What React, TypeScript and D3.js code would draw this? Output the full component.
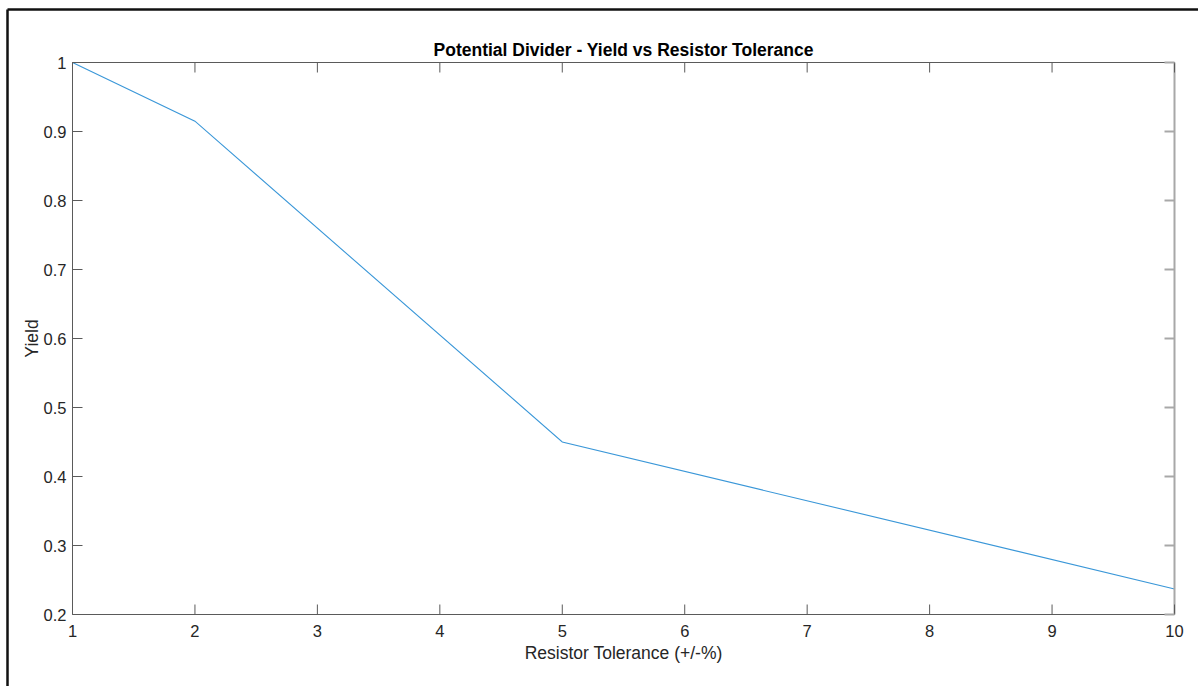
import React from "react";
import * as d3 from "d3";

// Tolerance (±%) against the fraction of dividers within spec
const tolerance = [1, 2, 5, 10];
const yieldValues = [1.0, 0.915, 0.45, 0.237];
const xTicks = [1, 2, 3, 4, 5, 6, 7, 8, 9, 10];
const yTicks = [0.2, 0.3, 0.4, 0.5, 0.6, 0.7, 0.8, 0.9, 1];

const titleText = "Potential Divider - Yield vs Resistor Tolerance";
const xLabel = "Resistor Tolerance (+/-%)";
const yLabel = "Yield";

const W = 1201;
const H = 686;
const plot = { left: 72.5, right: 1174.5, top: 62.5, bottom: 614.5 };
const font = "'Liberation Sans', Arial, Helvetica, sans-serif";
const axisColor = "#5a5a5a";
const textColor = "#262626";
const tickLen = 10;

export default function App() {
  const x = d3.scaleLinear().domain([1, 10]).range([plot.left, plot.right]);
  const y = d3.scaleLinear().domain([0.2, 1]).range([plot.bottom, plot.top]);

  const line = d3
    .line<number>()
    .x((_, i) => x(tolerance[i]))
    .y((d) => y(d));

  const fmt = (v: number) => (v === 1 ? "1" : d3.format(".1f")(v));

  return (
    <svg
      width={W}
      height={H}
      style={{ position: "absolute", left: 0, top: 0, display: "block", background: "#fff" }}
      fontFamily={font}
    >
      {/* outer figure frame */}
      <line x1={7.5} y1={9.5} x2={1198} y2={9.5} stroke="#111" strokeWidth={2.5} />
      <line x1={7.5} y1={9.5} x2={7.5} y2={H} stroke="#111" strokeWidth={2.5} />

      {/* data line */}
      <path d={line(yieldValues) || ""} fill="none" stroke="#3a97d8" strokeWidth={1.1} />

      {/* axes box */}
      <line x1={plot.left} y1={plot.top} x2={plot.right} y2={plot.top} stroke={axisColor} strokeWidth={1} />
      <line x1={plot.left} y1={plot.top} x2={plot.left} y2={plot.bottom} stroke={axisColor} strokeWidth={1} />
      <line x1={plot.left} y1={plot.bottom} x2={plot.right} y2={plot.bottom} stroke={axisColor} strokeWidth={1} />
      <line x1={plot.right} y1={plot.top} x2={plot.right} y2={plot.bottom} stroke="#a8a8a8" strokeWidth={2} />

      {/* x ticks */}
      {xTicks.map((t) => (
        <g key={`x${t}`}>
          <line x1={x(t)} x2={x(t)} y1={plot.bottom} y2={plot.bottom - tickLen} stroke={axisColor} />
          <line x1={x(t)} x2={x(t)} y1={plot.top} y2={plot.top + tickLen} stroke={axisColor} />
          <text x={x(t)} y={637} textAnchor="middle" fontSize={16.5} fill={textColor}>
            {t}
          </text>
        </g>
      ))}

      {/* y ticks */}
      {yTicks.map((t) => (
        <g key={`y${t}`}>
          <line x1={plot.left} x2={plot.left + tickLen} y1={y(t)} y2={y(t)} stroke={axisColor} />
          <line x1={plot.right} x2={plot.right - tickLen} y1={y(t)} y2={y(t)} stroke="#a8a8a8" strokeWidth={2} />
          <text x={plot.left - 6} y={y(t) + 6} textAnchor="end" fontSize={16.5} fill={textColor}>
            {fmt(t)}
          </text>
        </g>
      ))}

      {/* labels */}
      <text x={(plot.left + plot.right) / 2} y={56} textAnchor="middle" fontSize={17.5} fontWeight="bold" fill="#000">
        {titleText}
      </text>
      <text x={(plot.left + plot.right) / 2} y={659} textAnchor="middle" fontSize={17.5} fill={textColor}>
        {xLabel}
      </text>
      <text
        transform={`translate(38, ${(plot.top + plot.bottom) / 2}) rotate(-90)`}
        textAnchor="middle"
        fontSize={17.5}
        fill={textColor}
      >
        {yLabel}
      </text>
    </svg>
  );
}
